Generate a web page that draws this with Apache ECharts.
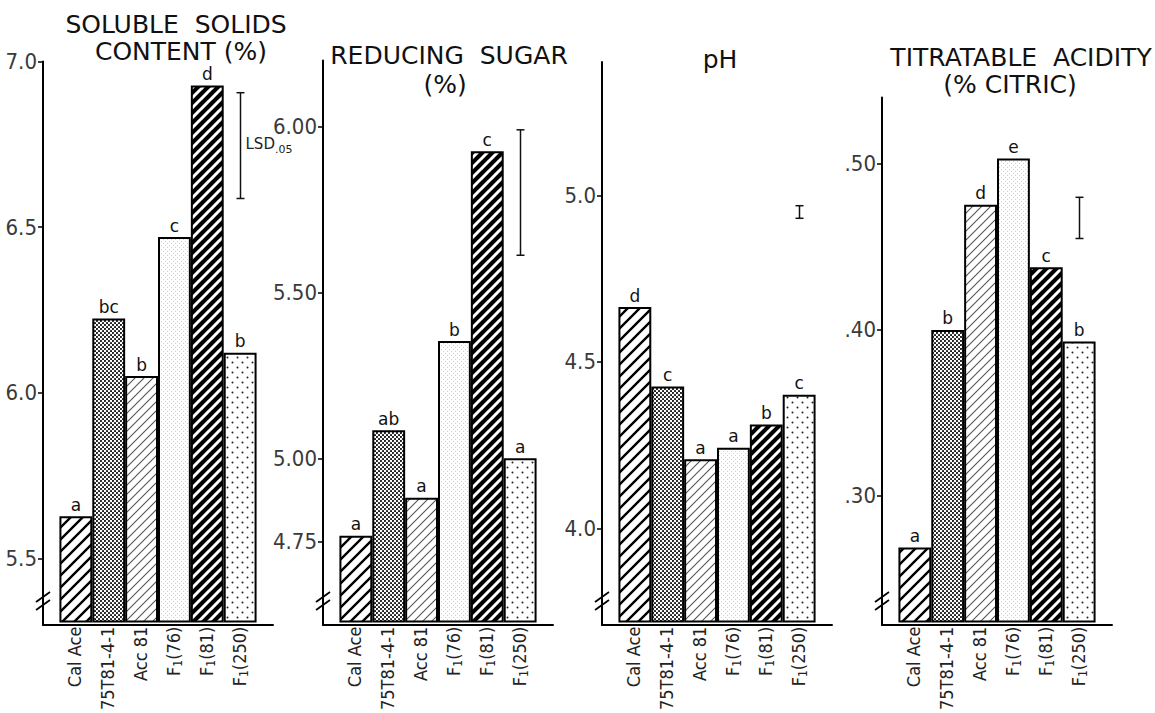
<!DOCTYPE html>
<html><head><meta charset="utf-8">
<script src="https://cdn.jsdelivr.net/npm/echarts@6/dist/echarts.min.js"></script>
<style>html,body{margin:0;padding:0;background:#fff}#c{width:1155px;height:713px}</style>
</head><body><div id="c"></div>
<script>
// ---------- data ----------
const categories = ['Cal Ace', '75T81-4-1', 'Acc 81', 'F1(76)', 'F1(81)', 'F1(250)'];
const solubleSolids = [5.62, 6.22, 6.045, 6.467, 6.927, 6.116];
const solubleLetters = ['a', 'bc', 'b', 'c', 'd', 'b'];
const reducingSugar = [4.76, 5.08, 4.875, 5.35, 5.925, 4.995];
const reducingLetters = ['a', 'ab', 'a', 'b', 'c', 'a'];
const pHValues = [4.66, 4.42, 4.20, 4.235, 4.305, 4.395];
const pHLetters = ['d', 'c', 'a', 'a', 'b', 'c'];
const acidity = [0.267, 0.399, 0.475, 0.503, 0.437, 0.392];
const acidityLetters = ['a', 'b', 'd', 'e', 'c', 'b'];
const lsdSoluble = [6.584, 6.905];
const lsdReducing = [5.61, 5.99];
const lsdPH = [4.928, 4.966];
const lsdAcidity = [0.4545, 0.4795];
const ticksSoluble = [5.5, 6.0, 6.5, 7.0];
const ticksReducing = [4.75, 5.0, 5.5, 6.0];
const ticksPH = [4.0, 4.5, 5.0];
const ticksAcidity = [0.30, 0.40, 0.50];
const titleSoluble = ['SOLUBLE  SOLIDS', 'CONTENT (%)'];
const titleReducing = ['REDUCING  SUGAR', '(%)'];
const titlePH = ['pH'];
const titleAcidity = ['TITRATABLE  ACIDITY', '(% CITRIC)'];

// ---------- layout ----------
const panels = [
  {values: solubleSolids, letters: solubleLetters, lsd: lsdSoluble, ticks: ticksSoluble, min: 5.3, max: 7.0, dec: 1,
   left: 43, top: 61.4, title: titleSoluble, tx: [176, 181], ty: [24, 51], lsdLabel: true},
  {values: reducingSugar, letters: reducingLetters, lsd: lsdReducing, ticks: ticksReducing, min: 4.5, max: 6.2, dec: 2,
   left: 323, top: 60.5, title: titleReducing, tx: [449, 445], ty: [55, 84]},
  {values: pHValues, letters: pHLetters, lsd: lsdPH, ticks: ticksPH, min: 3.71, max: 5.4, dec: 1,
   left: 602, top: 62, title: titlePH, tx: [720], ty: [59]},
  {values: acidity, letters: acidityLetters, lsd: lsdAcidity, ticks: ticksAcidity, min: 0.222, max: 0.54, dec: 2, noLead: true,
   left: 882, top: 97.6, title: titleAcidity, tx: [1021, 1010], ty: [57, 84]}
];
const FRAME_W = 230, BOTTOM = 88, H = 713;
const NARROW = '"Liberation Sans Narrow", "DejaVu Sans Condensed", "Roboto Condensed", "Liberation Sans", sans-serif';
const ROUND = '"DejaVu Sans", "Noto Sans", sans-serif';

// ---------- patterns ----------
function makePattern(size, bg, draw) {
  const c = document.createElement('canvas');
  c.width = size; c.height = size;
  const g = c.getContext('2d');
  g.fillStyle = bg; g.fillRect(0, 0, size, size);
  draw(g, size);
  return {image: c, repeat: 'repeat'};
}
function diag(g, s, color, w) {
  g.strokeStyle = color; g.lineWidth = w; g.beginPath();
  for (let k = -1; k <= 1; k++) { g.moveTo(k * s - 1, s + 1); g.lineTo(k * s + s + 1, -1); }
  g.stroke();
}
function dot(g, x, y, r, color) { g.fillStyle = color; g.beginPath(); g.arc(x, y, r, 0, Math.PI * 2); g.fill(); }
const patterns = [
  makePattern(12, '#fff', (g, s) => diag(g, s, '#000', 2.4)),
  makePattern(4, '#fff', g => { dot(g, 1, 1, 1.05, '#111'); dot(g, 3, 3, 1.05, '#111'); }),
  makePattern(9, '#fff', (g, s) => diag(g, s, '#555', 1.1)),
  makePattern(4, '#fff', g => { g.fillStyle = '#cfcfcf'; g.fillRect(1, 1, 1, 1); g.fillRect(3, 3, 1, 1); }),
  makePattern(10, '#000', (g, s) => diag(g, s, '#fff', 3)),
  makePattern(10, '#fff', g => { dot(g, 2.5, 2.5, 1, '#222'); dot(g, 7.5, 7.5, 1, '#222'); })
];

const grid = [], xAxis = [], yAxis = [], series = [], graphic = [];
panels.forEach((p, i) => {
  const fi = 2 * i, bi = 2 * i + 1;
  const fmt = v => { let s = Number(v).toFixed(p.dec); return p.noLead ? s.replace(/^0/, '') : s; };
  grid.push({left: p.left, width: FRAME_W, top: p.top, bottom: BOTTOM});
  grid.push({left: p.left + FRAME_W / 14, width: FRAME_W * 12 / 14, top: p.top, bottom: BOTTOM});
  xAxis.push({gridIndex: fi, type: 'value', min: 0, max: 1,
    axisLine: {show: true, onZero: false, lineStyle: {color: '#000', width: 2}},
    axisTick: {show: false}, axisLabel: {show: false}, splitLine: {show: false}});
  yAxis.push({gridIndex: fi, type: 'value', min: p.min, max: p.max,
    axisLine: {show: true, onZero: false, lineStyle: {color: '#000', width: 2}},
    axisTick: {show: true, length: 5, customValues: p.ticks, lineStyle: {color: '#000', width: 1.5}},
    axisLabel: {show: true, customValues: p.ticks, formatter: fmt, margin: 6,
      fontSize: 22, color: '#3a3a3a', fontFamily: NARROW},
    splitLine: {show: false}});
  xAxis.push({gridIndex: bi, type: 'category', data: categories, boundaryGap: true,
    axisLine: {show: false}, axisTick: {show: false},
    axisLabel: {show: true, rotate: 90, margin: 5, interval: 0,
      formatter: v => v.indexOf('F1') === 0 ? '{t|F}{s|1}{t|' + v.slice(2) + '}' : '{t|' + v + '}',
      rich: {t: {fontSize: 18, fontFamily: NARROW, color: '#222', verticalAlign: 'top', lineHeight: 20},
             s: {fontSize: 12, fontFamily: NARROW, color: '#222', verticalAlign: 'bottom', lineHeight: 12, padding: [8, 0, 0, 0]}}},
    splitLine: {show: false}});
  yAxis.push({gridIndex: bi, type: 'value', min: p.min, max: p.max, show: false});
  series.push({type: 'bar', xAxisIndex: bi, yAxisIndex: bi, barCategoryGap: '0%',
    data: p.values.map((v, k) => ({value: v, itemStyle: {color: patterns[k]}})),
    itemStyle: {borderColor: '#000', borderWidth: 2},
    label: {show: true, position: 'top', distance: 3, formatter: q => p.letters[q.dataIndex],
      fontSize: 17, color: '#111', fontFamily: ROUND},
    silent: true, animation: false});
  series.push({type: 'custom', xAxisIndex: bi, yAxisIndex: bi, animation: false, silent: true,
    data: [[5, p.lsd[0], p.lsd[1]]],
    renderItem: (params, api) => {
      const lo = api.coord([api.value(0), api.value(1)]);
      const hi = api.coord([api.value(0), api.value(2)]);
      const x = Math.round(lo[0]) + 0.5, cap = 4;
      const st = {stroke: '#111', lineWidth: 1.5};
      const children = [
        {type: 'line', shape: {x1: x, y1: lo[1], x2: x, y2: hi[1]}, style: st},
        {type: 'line', shape: {x1: x - cap, y1: lo[1], x2: x + cap, y2: lo[1]}, style: st},
        {type: 'line', shape: {x1: x - cap, y1: hi[1], x2: x + cap, y2: hi[1]}, style: st}
      ];
      if (p.lsdLabel) {
        children.push({type: 'text', x: x + 5, y: (lo[1] + hi[1]) / 2,
          style: {text: '{a|LSD}{b|.05}', verticalAlign: 'middle', align: 'left',
            rich: {a: {fontSize: 15, fontFamily: ROUND, fill: '#222', verticalAlign: 'top', lineHeight: 18},
                   b: {fontSize: 11, fontFamily: ROUND, fill: '#222', verticalAlign: 'bottom', lineHeight: 11, padding: [7, 0, 0, 0]}}}});
      }
      return {type: 'group', children: children};
    }});
  // titles
  p.title.forEach((t, j) => {
    graphic.push({type: 'text', x: p.tx[j], y: p.ty[j],
      style: {text: t, textAlign: 'center', textVerticalAlign: 'middle',
        font: 'normal 25px ' + ROUND, fill: '#111'}});
  });
  // axis break marks
  const ax = p.left, cy = H - BOTTOM - 24;
  graphic.push({type: 'line', shape: {x1: ax, y1: cy - 4, x2: ax, y2: cy + 4}, style: {stroke: '#fff', lineWidth: 4}});
  graphic.push({type: 'line', shape: {x1: ax - 7, y1: cy + 1, x2: ax + 7, y2: cy - 9}, style: {stroke: '#000', lineWidth: 1.8}});
  graphic.push({type: 'line', shape: {x1: ax - 7, y1: cy + 9, x2: ax + 7, y2: cy - 1}, style: {stroke: '#000', lineWidth: 1.8}});
});

const chart = echarts.init(document.getElementById('c'), null, {renderer: 'svg'});
chart.setOption({backgroundColor: '#fff', animation: false, grid, xAxis, yAxis, series, graphic});
</script></body></html>
